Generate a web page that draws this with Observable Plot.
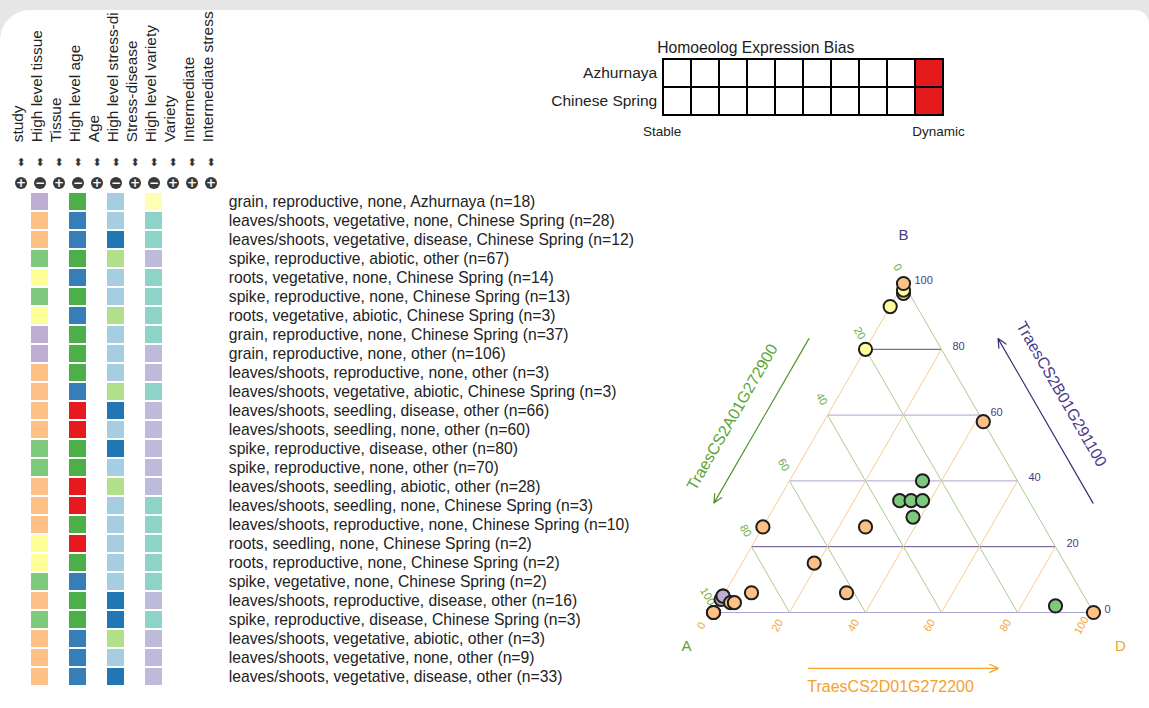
<!DOCTYPE html>
<html><head><meta charset="utf-8">
<script src="https://cdn.jsdelivr.net/npm/d3@7"></script>
<script src="https://cdn.jsdelivr.net/npm/@observablehq/plot@0.6"></script>
<style>
body{margin:0;background:#fff;font-family:"Liberation Sans",Arial,sans-serif;}
#wrap{position:relative;width:1149px;height:708px;overflow:hidden;background:#fff;}
#topclip{position:absolute;left:0;top:0;width:1149px;height:45px;overflow:hidden;z-index:5;pointer-events:none;}
#topclip .hole{position:absolute;left:0;top:10px;width:1149px;height:200px;border-radius:30px 14px 0 0;box-shadow:0 0 0 60px #e6e6e6;}
.abs{position:absolute;}
</style></head><body>
<div id="wrap">
<div id="heat" class="abs" style="left:0;top:0"></div>
<div id="bias" class="abs" style="left:540px;top:30px"></div>
<div id="tern" class="abs" style="left:640px;top:200px"></div>
<div id="topclip"><div class="hole"></div></div>
</div>
<script>
// ---------- data ----------
const headers = ["study","High level tissue","Tissue","High level age","Age","High level stress-di","Stress-disease","High level variety","Variety","Intermediate","Intermediate stress"];
const headerIcons = ["+","−","+","−","+","−","+","−","+","+","+"];

const tissues = ["grain","leaves/shoots","leaves/shoots","spike","roots","spike","roots","grain","grain","leaves/shoots","leaves/shoots","leaves/shoots","leaves/shoots","spike","spike","leaves/shoots","leaves/shoots","leaves/shoots","roots","roots","spike","leaves/shoots","spike","leaves/shoots","leaves/shoots","leaves/shoots"];
const ages = ["reproductive","vegetative","vegetative","reproductive","vegetative","reproductive","vegetative","reproductive","reproductive","reproductive","vegetative","seedling","seedling","reproductive","reproductive","seedling","seedling","reproductive","seedling","reproductive","vegetative","reproductive","reproductive","vegetative","vegetative","vegetative"];
const stresses = ["none","none","disease","abiotic","none","none","abiotic","none","none","none","abiotic","disease","none","disease","none","abiotic","none","none","none","none","none","disease","disease","abiotic","none","disease"];
const varieties = ["Azhurnaya","Chinese Spring","Chinese Spring","other","Chinese Spring","Chinese Spring","Chinese Spring","Chinese Spring","other","other","Chinese Spring","other","other","other","other","other","Chinese Spring","Chinese Spring","Chinese Spring","Chinese Spring","Chinese Spring","other","Chinese Spring","other","other","other"];
const counts = [18,28,12,67,14,13,3,37,106,3,3,66,60,80,70,28,3,10,2,2,2,16,3,3,9,33];

const tissueLevels = ["grain","leaves/shoots","spike","roots"];
const tissuePalette = ["#beaed4","#fdc086","#7fc97f","#ffff99"];
const ageLevels = ["reproductive","vegetative","seedling"];
const agePalette = ["#4daf4a","#377eb8","#e41a1c"];
const stressLevels = ["none","disease","abiotic"];
const stressPalette = ["#a6cee3","#1f78b4","#b2df8a"];
const varietyLevels = ["Azhurnaya","Chinese Spring","other"];
const varietyPalette = ["#ffffb3","#8dd3c7","#bebada"];

const biasRows = ["Azhurnaya","Chinese Spring"];
const biasBins = [1,2,3,4,5,6,7,8,9,10];
const azhurnayaBias = [0,0,0,0,0,0,0,0,0,1];
const chineseSpringBias = [0,0,0,0,0,0,0,0,0,1];

// ternary points (percent A, B, D) and tissue
const pointTissue = ["roots","roots","roots","roots","grain","grain","grain","spike","spike","spike","spike","spike","spike","leaves/shoots","leaves/shoots","leaves/shoots","leaves/shoots","leaves/shoots","leaves/shoots","leaves/shoots","leaves/shoots","leaves/shoots","leaves/shoots","leaves/shoots","leaves/shoots","leaves/shoots"];
const pointA = [1.5,1,7,20, 95,96,95, 25,34,31,28,33,9, 0,0,74,47,66,87,62,94,93,100,100,100,0];
const pointB = [97,98,93,80, 5,4,5, 40,34,34,34,29,2, 100,58,26,26,15,6,6,3,3,0,0,0,0];
const pointD = [1.5,1,0,0, 0,0,0, 35,32,35,38,38,89, 0,42,0,27,19,7,32,3,4,0,0,0,100];

const tickValues = [0,20,40,60,80,100];
const gridLevels = [0,20,40,60,80];

// ---------- styles ----------
const FONT = "Liberation Sans, Arial, sans-serif";
const baseStyle = {fontFamily: FONT, background: "transparent", overflow: "visible", color: "#222"};

// ---------- heatmap ----------
const rowLabels = tissues.map((t,i) => `${t}, ${ages[i]}, ${stresses[i]}, ${varieties[i]} (n=${counts[i]})`);
const colorKeys = [], colorVals = [];
[[tissueLevels,tissuePalette,"t"],[ageLevels,agePalette,"a"],[stressLevels,stressPalette,"s"],[varietyLevels,varietyPalette,"v"]]
  .forEach(([lv,pal,p]) => lv.forEach((l,i) => {colorKeys.push(p+":"+l); colorVals.push(pal[i]);}));
const cells = [];
rowLabels.forEach((r,i) => {
  cells.push({col: headers[1], row: r, key: "t:"+tissues[i]});
  cells.push({col: headers[3], row: r, key: "a:"+ages[i]});
  cells.push({col: headers[5], row: r, key: "s:"+stresses[i]});
  cells.push({col: headers[7], row: r, key: "v:"+varieties[i]});
});
const W1 = 650;
const heat = Plot.plot({
  width: W1, height: 708,
  marginLeft: 9, marginRight: W1 - 221.3, marginTop: 189.6, marginBottom: 19.9,
  x: {domain: headers, padding: 0.1, axis: null},
  y: {domain: rowLabels, padding: 0.1, axis: null},
  color: {domain: colorKeys, range: colorVals},
  style: baseStyle,
  marks: [
    Plot.cell(cells, {x: "col", y: "row", fill: "key"}),
    Plot.axisY({anchor: "right", tickSize: 0, tickPadding: 7, fontSize: 15.7, fill: "#222", label: null}),
    Plot.text(headers, {x: d => d, frameAnchor: "top", lineAnchor: "middle", dy: -47.8, dx: -2.5, rotate: -90, textAnchor: "start", fontSize: 15.4, fill: "#222"}),
    Plot.text(headers, {x: d => d, frameAnchor: "top", lineAnchor: "middle", dy: -28, text: () => "⬍", fontSize: 11, fontFamily: "DejaVu Sans", fill: "#333"}),
    Plot.dot(headers, {x: d => d, frameAnchor: "top", dy: -7, r: 6, fill: "#3a3a3a"}),
    Plot.text(headers, {x: d => d, frameAnchor: "top", lineAnchor: "middle", dy: -7, text: (d,i) => headerIcons[i], fill: "white", fontSize: 12, fontWeight: "bold", fontFamily: "DejaVu Sans"})
  ]
});
document.getElementById("heat").appendChild(heat);

// ---------- bias legend ----------
const biasCells = [];
biasBins.forEach((b,i) => {
  biasCells.push({row: biasRows[0], bin: b, v: azhurnayaBias[i]});
  biasCells.push({row: biasRows[1], bin: b, v: chineseSpringBias[i]});
});
const bias = Plot.plot({
  width: 460, height: 115,
  marginLeft: 121.7, marginRight: 56, marginTop: 28.3, marginBottom: 30,
  x: {domain: biasBins, padding: 0, axis: null},
  y: {domain: biasRows, padding: 0, axis: null},
  color: {domain: [0,1], range: ["#ffffff","#e41a1c"], type: "ordinal"},
  style: baseStyle,
  marks: [
    Plot.cell(biasCells, {x: "bin", y: "row", fill: "v", stroke: "#000", strokeWidth: 2}),
    Plot.axisY({anchor: "left", tickSize: 0, tickPadding: 5, fontSize: 15.5, fill: "#222", label: null}),
    Plot.text(["Homoeolog Expression Bias"], {frameAnchor: "top-left", lineAnchor: "middle", dx: -5, dy: -11, textAnchor: "start", fontSize: 15.7, fill: "#222"}),
    Plot.text(["Stable"], {frameAnchor: "bottom-left", lineAnchor: "middle", dy: 16, textAnchor: "middle", fontSize: 13.5, fill: "#222"}),
    Plot.text(["Dynamic"], {frameAnchor: "bottom-right", lineAnchor: "middle", dy: 16, dx: -6, textAnchor: "middle", fontSize: 13.5, fill: "#222"})
  ]
});
document.getElementById("bias").appendChild(bias);

// ---------- ternary ----------
const S = Math.sqrt(3) / 2;
const P = (b, d) => ({x: d + b / 2, y: b * S});
const leftEdge = (t, off) => ({x: t / 2 - off * S, y: t * S + off * 0.5});
const rightEdge = (t, off) => ({x: 100 - t / 2 + off * S, y: t * S + off * 0.5});
const bottomEdge = (t, off) => ({x: t, y: -off});

const GREEN = "#5aa532", ORANGE = "#f5a02c", PURPLE = "#4b3a87";
const bLineColor = v => (v === 20 || v === 80) ? "#5d4d91" : "#aba4d1";

const lines = [];
gridLevels.forEach(v => {
  const a1 = P(v, 0), a2 = P(v, 100 - v);
  lines.push({x1: a1.x, y1: a1.y, x2: a2.x, y2: a2.y, c: bLineColor(v)});
});
gridLevels.forEach(v => {
  const a1 = P(100 - v, 0), a2 = P(0, 100 - v);
  lines.push({x1: a1.x, y1: a1.y, x2: a2.x, y2: a2.y, c: "#a9cc93"});
});
gridLevels.forEach(v => {
  const a1 = P(0, v), a2 = P(100 - v, v);
  lines.push({x1: a1.x, y1: a1.y, x2: a2.x, y2: a2.y, c: "#fbcb8f"});
});

const pts = pointTissue.map((t, i) => ({t, ...P(pointB[i], pointD[i]), a: pointA[i]}));

const seg = (p1, p2, c) => ({x1: p1.x, y1: p1.y, x2: p2.x, y2: p2.y, c});
const arrows = [
  seg(leftEdge(75, 14.3), leftEdge(25, 14.3), "#4f9428"),
  seg(rightEdge(25, 14.3), rightEdge(75, 14.3), "#3d2c75"),
  seg(bottomEdge(25, 14.7), bottomEdge(75, 14.7), "#f5a02c")
];
const titles = [
  {...leftEdge(47, 21.4), text: "TraesCS2A01G272900", r: -60, c: GREEN},
  {...rightEdge(54, 21.4), text: "TraesCS2B01G291100", r: 60, c: PURPLE},
  {...bottomEdge(46.6, 19.5), text: "TraesCS2D01G272200", r: 0, c: ORANGE}
];

const tern = Plot.plot({
  width: 509, height: 508,
  x: {domain: [0, 100], range: [73, 453], axis: null},
  y: {domain: [0, 100 * S], range: [412, 83], axis: null},
  color: {domain: tissueLevels, range: tissuePalette},
  style: baseStyle,
  marks: [
    Plot.link(lines, {x1: "x1", y1: "y1", x2: "x2", y2: "y2", stroke: "c", strokeWidth: 1}),
    Plot.text(tickValues, {x: v => P(v, 100 - v).x, y: v => P(v, 100 - v).y, text: d => String(d), dx: 11, dy: -3, textAnchor: "start", fontSize: 11, fill: PURPLE}),
    Plot.text(tickValues, {x: v => P(100 - v, 0).x, y: v => P(100 - v, 0).y, text: d => String(d), dx: -6, dy: -16, rotate: 60, fontSize: 11, fill: "#6ab04c"}),
    Plot.text(tickValues, {x: v => P(0, v).x, y: v => P(0, v).y, text: d => String(d), dx: -12, dy: 13, rotate: -60, fontSize: 11, fill: "#f7a63a"}),
    Plot.arrow(arrows, {x1: "x1", y1: "y1", x2: "x2", y2: "y2", stroke: "c", strokeWidth: 1.2, headLength: 12, headAngle: 50}),
    Plot.text(titles, {x: "x", y: "y", text: "text", rotate: "r", fill: "c", fontSize: 16}),
    Plot.text(["B"], {x: P(100, 0).x, y: P(100, 0).y, dy: -48, fontSize: 15, fill: PURPLE}),
    Plot.text(["A"], {x: P(0, 0).x, y: P(0, 0).y, dx: -27, dy: 34, fontSize: 15, fill: GREEN}),
    Plot.text(["D"], {x: P(0, 100).x, y: P(0, 100).y, dx: 27, dy: 34, fontSize: 15, fill: ORANGE}),
    Plot.dot(pts, {x: "x", y: "y", r: 6.6, fill: "t", stroke: "#1e1e1e", strokeWidth: 2})
  ]
});
document.getElementById("tern").appendChild(tern);
</script>
</body></html>
